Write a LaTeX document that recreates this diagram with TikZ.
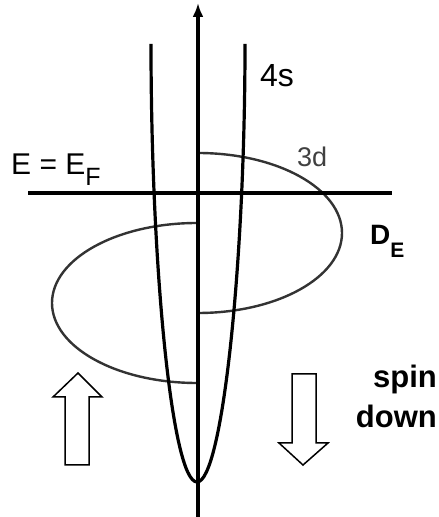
\documentclass[tikz,border=0pt]{standalone}
\usepackage{fontspec}
\setmainfont{Liberation Sans}
\usetikzlibrary{arrows.meta}
\begin{document}
\begin{tikzpicture}[x=1pt,y=1pt,
  thick line/.style={line width=3.2pt,black},
  band/.style={line width=2.4pt,draw=black!80},
  hollow/.style={line width=1.5pt,draw=black,fill=white,line join=miter},
  lbl/.style={inner sep=0pt,font=\fontsize{29}{34}\selectfont}]
\useasboundingbox[fill=white] (0,0) rectangle (439,517);
% 3d bands (half ellipses)
\draw[band] (198,364) arc[start angle=90,end angle=-90,x radius=144,y radius=80];
\draw[band] (197,294) arc[start angle=90,end angle=270,x radius=145,y radius=80];
% 4s parabola
\draw[thick line] (151,473) .. controls (151,250) and (172,35) .. (197,35)
                  .. controls (222,35) and (245,250) .. (245,473);
% Fermi level
\coordinate (ef1) at (28,324);
\coordinate (ef2) at (392,324);
\draw[thick line] (ef1) -- (ef2);
% energy axis
\coordinate (ax0) at (198,0);
\coordinate (ax1) at (198,514);
\draw[thick line,-{Latex[length=14pt,width=11pt]}] (ax0) -- (ax1);
% spin arrows
\draw[hollow] (78,144) -- (102,120) -- (89,120) -- (89,52) -- (65,52) -- (65,120) -- (53,120) -- cycle;
\draw[hollow] (303,52) -- (328,74) -- (316,74) -- (316,143) -- (292,143) -- (292,74) -- (279,74) -- cycle;
% labels
\node[lbl,anchor=base west,font=\fontsize{30}{34}\selectfont] (ef) at (11,342) {E = E\raisebox{-11pt}{\fontsize{25}{25}\selectfont F}};
\node[lbl,anchor=base west,font=\fontsize{32}{34}\selectfont] (s4) at (260,430) {4s};
\node[lbl,anchor=base west,text=black!75,font=\fontsize{27}{30}\selectfont] (d3) at (297,350) {3d};
\node[lbl,anchor=base west,font=\fontsize{28}{34}\bfseries] (de) at (370,272) {D\raisebox{-13pt}{\fontsize{21}{21}\bfseries E}};
\node[lbl,anchor=base east,font=\fontsize{31}{34}\bfseries] (sp) at (437,129) {spin};
\node[lbl,anchor=base east,font=\fontsize{31}{34}\bfseries] (dn) at (437,89) {down};
\end{tikzpicture}
\end{document}
